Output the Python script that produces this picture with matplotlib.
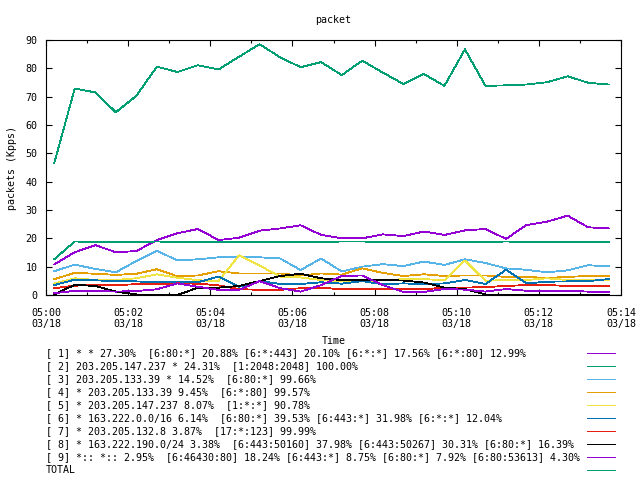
import numpy as np
import pandas as pd
import matplotlib
matplotlib.use("Agg")
import matplotlib.pyplot as plt
import matplotlib.dates as mdates
from matplotlib.lines import Line2D
from matplotlib.ticker import MultipleLocator

# sample times (every 30 s)
times = pd.date_range("2024-03-18 05:00:12", periods=28, freq="30s")

s1 = [10.8, 15.1, 17.6, 15.1, 15.5, 19.4, 21.8, 23.3, 19.4, 20.2, 22.7, 23.5, 24.6, 21.2,
      20.0, 20.0, 21.4, 20.8, 22.4, 21.2, 22.8, 23.3, 19.8, 24.7, 25.9, 28.0, 23.9, 23.5]
s2 = [12.6, 18.9, 18.6, 18.6, 18.6, 18.9, 18.6, 18.6, 18.6, 18.6, 18.6, 18.6, 18.6, 18.6,
      18.9, 18.9, 18.6, 18.6, 18.6, 18.6, 18.6, 18.6, 18.9, 18.6, 18.6, 18.6, 18.6, 18.6]
s3 = [8.4, 10.7, 9.2, 8.0, 12.0, 15.6, 12.2, 12.6, 13.3, 13.6, 13.3, 12.9, 8.8, 12.9,
      8.3, 10.0, 10.9, 10.2, 11.8, 10.6, 12.6, 11.3, 9.4, 8.9, 8.0, 8.7, 10.5, 10.1]
s4 = [5.6, 7.8, 7.5, 7.1, 7.5, 9.1, 6.6, 6.9, 8.4, 7.6, 7.6, 7.6, 6.9, 7.6,
      7.2, 9.4, 7.8, 6.7, 7.3, 6.7, 6.9, 6.9, 6.4, 6.4, 6.0, 6.4, 6.7, 6.7]
s5 = [4.1, 5.9, 5.3, 5.3, 5.9, 7.3, 6.1, 5.2, 4.9, 14.0, 10.4, 6.5, 6.2, 5.3,
      4.9, 4.9, 5.2, 5.6, 5.6, 5.2, 12.2, 5.0, 5.3, 5.3, 5.9, 5.3, 5.5, 5.3]
s6 = [3.5, 5.4, 5.2, 4.8, 4.8, 4.5, 4.7, 4.5, 6.5, 2.9, 4.9, 3.9, 3.9, 4.5,
      4.0, 4.9, 3.8, 4.1, 3.8, 4.1, 5.3, 3.9, 8.9, 4.1, 4.7, 4.8, 4.9, 5.6]
s7 = [2.4, 3.3, 3.5, 3.5, 3.8, 3.8, 4.1, 4.0, 3.4, 2.1, 1.8, 1.8, 2.4, 2.6,
      2.0, 2.0, 2.0, 2.0, 2.0, 2.6, 2.6, 2.8, 3.2, 3.5, 3.5, 3.2, 3.2, 3.2]
s8 = [0.2, 3.6, 3.2, 1.2, 0.2, 0.0, 0.0, 2.6, 2.6, 3.2, 4.9, 6.7, 7.5, 5.9,
      5.3, 5.3, 5.3, 5.1, 4.4, 2.6, 2.1, 0.2, 0.0, 0.2, 0.0, 0.0, 0.0, 0.0]
s9 = [0.6, 1.5, 1.4, 1.2, 1.4, 2.0, 4.1, 2.9, 1.8, 1.8, 4.9, 2.4, 1.2, 3.5,
      6.7, 6.9, 3.5, 1.1, 1.1, 2.1, 1.9, 1.2, 2.1, 1.5, 1.5, 1.5, 1.2, 1.2]
total = [46.5, 72.9, 71.5, 64.5, 70.3, 80.6, 78.7, 81.1, 79.6, 84.1, 88.5, 83.9, 80.4, 82.2,
         77.6, 82.7, 78.5, 74.5, 78.0, 73.8, 86.7, 73.8, 74.0, 74.3, 75.1, 77.2, 74.9, 74.3]

labels = [
    "[ 1] * * 27.30%  [6:80:*] 20.88% [6:*:443] 20.10% [6:*:*] 17.56% [6:*:80] 12.99%",
    "[ 2] 203.205.147.237 * 24.31%  [1:2048:2048] 100.00%",
    "[ 3] 203.205.133.39 * 14.52%  [6:80:*] 99.66%",
    "[ 4] * 203.205.133.39 9.45%  [6:*:80] 99.57%",
    "[ 5] * 203.205.147.237 8.07%  [1:*:*] 90.78%",
    "[ 6] * 163.222.0.0/16 6.14%  [6:80:*] 39.53% [6:443:*] 31.98% [6:*:*] 12.04%",
    "[ 7] * 203.205.132.8 3.87%  [17:*:123] 99.99%",
    "[ 8] * 163.222.190.0/24 3.38%  [6:443:50160] 37.98% [6:443:50267] 30.31% [6:80:*] 16.39%",
    "[ 9] *:: *:: 2.95%  [6:46430:80] 18.24% [6:443:*] 8.75% [6:80:*] 7.92% [6:80:53613] 4.30%",
    "TOTAL",
]
series = [s1, s2, s3, s4, s5, s6, s7, s8, s9, total]
colors = ["#9400d3", "#009e73", "#56b4e9", "#e69f00", "#f0e442",
          "#0072b2", "#e51e10", "#000000", "#9400d3", "#009e73"]

mono = "DejaVu Sans Mono"
fs = 7.2

fig = plt.figure(figsize=(6.4, 4.8), dpi=100)
ax = fig.add_axes([46 / 640, 185 / 480, 575 / 640, 255 / 480])

for y, c in zip(series, colors):
    ax.plot(times, y, color=c, lw=0.6, antialiased=False)

ax.set_xlim(pd.Timestamp("2024-03-18 05:00"), pd.Timestamp("2024-03-18 05:14"))
ax.set_ylim(0, 90)
ax.yaxis.set_major_locator(MultipleLocator(10))
ax.xaxis.set_major_locator(mdates.MinuteLocator(byminute=range(0, 60, 2)))
ax.xaxis.set_minor_locator(mdates.MinuteLocator())
ax.xaxis.set_major_formatter(mdates.DateFormatter("%H:%M\n%m/%d"))
ax.tick_params(which="both", direction="in", top=True, right=True,
               labelsize=fs, width=0.8, color="black")
ax.tick_params(axis="x", which="major", pad=9)
ax.tick_params(axis="y", which="major", pad=6)
ax.tick_params(which="major", length=4.5)
ax.tick_params(which="minor", length=2.5)
for lab in ax.get_xticklabels() + ax.get_yticklabels():
    lab.set_family(mono)
for sp in ax.spines.values():
    sp.set_linewidth(0.8)

ax.set_title("packet", family=mono, fontsize=fs, pad=12)
ax.set_ylabel("packets (Kpps)", family=mono, fontsize=fs, labelpad=6)
ax.set_xlabel("Time", family=mono, fontsize=fs, labelpad=5)

# key below the plot: text on the left, line sample on the right
for i, (lab, c) in enumerate(zip(labels, colors)):
    yy = 1 - (353 + 13 * i) / 480
    fig.text(46 / 640, yy, lab, family=mono, fontsize=fs, va="center", ha="left")
    fig.add_artist(Line2D([587 / 640, 615 / 640], [yy, yy], color=c, lw=0.72,
                          antialiased=False, transform=fig.transFigure))

plt.savefig("out.png", dpi=100)
